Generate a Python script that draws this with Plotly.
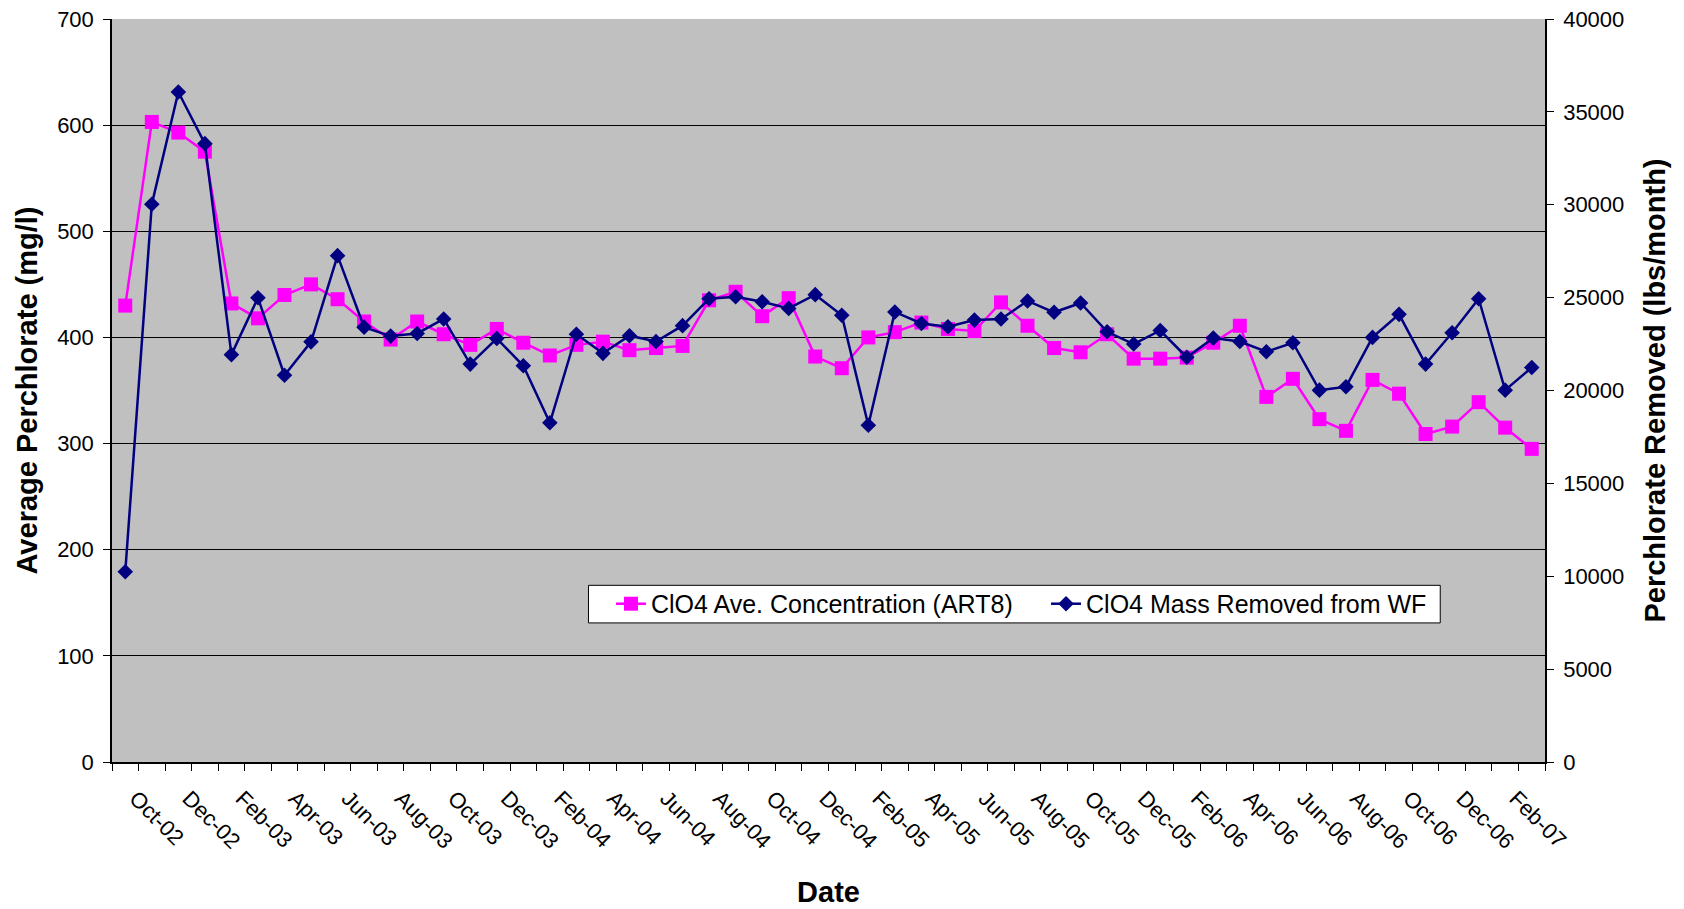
import plotly.graph_objects as go

months = ["Sep-02","Oct-02","Nov-02","Dec-02","Jan-03","Feb-03","Mar-03","Apr-03","May-03","Jun-03",
          "Jul-03","Aug-03","Sep-03","Oct-03","Nov-03","Dec-03","Jan-04","Feb-04","Mar-04","Apr-04",
          "May-04","Jun-04","Jul-04","Aug-04","Sep-04","Oct-04","Nov-04","Dec-04","Jan-05","Feb-05",
          "Mar-05","Apr-05","May-05","Jun-05","Jul-05","Aug-05","Sep-05","Oct-05","Nov-05","Dec-05",
          "Jan-06","Feb-06","Mar-06","Apr-06","May-06","Jun-06","Jul-06","Aug-06","Sep-06","Oct-06",
          "Nov-06","Dec-06","Jan-07","Feb-07"]

concentration = [430, 603, 593, 575, 432, 418, 440, 450, 436, 415,
                 398, 415, 403, 393, 408, 395, 383, 393, 396, 388,
                 390, 392, 435, 443, 420, 437, 382, 371, 400, 405,
                 414, 408, 406, 433, 411, 390, 386, 403, 380, 380,
                 381, 395, 411, 344, 361, 323, 312, 360, 347, 309,
                 316, 339, 315, 295]

mass_removed = [10240, 30030, 36070, 33290, 21930, 24990, 20820, 22620, 27260, 23410,
                22930, 23070, 23850, 21420, 22800, 21330, 18260, 23030, 22000, 22950,
                22640, 23490, 24940, 25050, 24780, 24420, 25160, 24050, 18130, 24230,
                23610, 23430, 23790, 23850, 24820, 24210, 24710, 23160, 22500, 23230,
                21790, 22820, 22640, 22090, 22570, 20020, 20200, 22860, 24100, 21420,
                23110, 24940, 20020, 21240]

x_pos = list(range(len(months)))
label_idx = [i for i in x_pos if i % 2 == 1]
label_text = [months[i] for i in label_idx]

FONT = "Arial, Liberation Sans, sans-serif"

fig = go.Figure()
fig.add_trace(go.Scatter(
    x=x_pos, y=concentration, name="ClO4 Ave. Concentration (ART8)",
    mode="lines+markers", legend="legend",
    line=dict(color="#FF00FF", width=2.5),
    marker=dict(symbol="square", size=14, color="#FF00FF"),
))
fig.add_trace(go.Scatter(
    x=x_pos, y=mass_removed, name="ClO4 Mass Removed from WF",
    mode="lines+markers", yaxis="y2", legend="legend2",
    line=dict(color="#000080", width=2.5),
    marker=dict(symbol="diamond", size=12, color="#000080"),
))

# legend frame (white box with black border) behind the two legend entries
fig.add_shape(type="rect", xref="paper", yref="paper",
              x0=0.3325, x1=0.9269, y0=0.1872, y1=0.2378,
              fillcolor="white", line=dict(color="black", width=1), layer="above")

leg_common = dict(
    orientation="h", yanchor="middle", xanchor="left", y=0.2127,
    bgcolor="rgba(0,0,0,0)", borderwidth=0,
    font=dict(family=FONT, size=25, color="black"),
    itemwidth=30,
)

# page body adds an 8px margin, so the figure is 8px smaller and offset
fig.update_layout(
    width=1676, height=901,
    margin=dict(l=104, r=139, t=11, b=147, autoexpand=False),
    paper_bgcolor="white", plot_bgcolor="#C0C0C0",
    font=dict(family=FONT, size=22, color="black"),
    showlegend=True,
    legend=dict(x=0.3482, **leg_common),
    legend2=dict(x=0.6518, **leg_common),
    xaxis=dict(
        range=[-0.5, len(months) - 0.5], automargin=False,
        tickmode="array", tickvals=label_idx, ticktext=label_text,
        tickangle=45, ticks="outside", ticklen=7, tickcolor="rgba(0,0,0,0)",
        ticklabelshift=-16, ticklabelstandoff=6,
        minor=dict(tickmode="linear", tick0=-0.5, dtick=1, ticks="outside", ticklen=7,
                   tickcolor="black", tickwidth=1, showgrid=False),
        showgrid=False, zeroline=False,
        showline=True, linecolor="black", linewidth=1.5,
        tickfont=dict(size=22),
        title=dict(text="<b>Date</b>", font=dict(size=29), standoff=29),
    ),
    yaxis=dict(
        range=[0, 700], dtick=100, tick0=0, automargin=False, ticklabeloverflow="allow",
        showgrid=True, gridcolor="black", gridwidth=1,
        zeroline=False, showline=True, linecolor="black", linewidth=1.5,
        ticks="outside", ticklen=7, tickcolor="black", ticklabelstandoff=5,
        tickfont=dict(size=22),
        title=dict(text="<b>Average Perchlorate (mg/l)</b>", font=dict(size=29), standoff=11),
    ),
    yaxis2=dict(
        range=[0, 40000], dtick=5000, tick0=0, overlaying="y", side="right",
        automargin=False, tickformat="d", ticklabeloverflow="allow",
        showgrid=False, zeroline=False, showline=True, linecolor="black", linewidth=1.5,
        ticks="outside", ticklen=7, tickcolor="black", ticklabelstandoff=5,
        tickfont=dict(size=22),
        title=dict(text="<b>Perchlorate Removed (lbs/month)</b>", font=dict(size=29), standoff=21),
    ),
)

fig.write_html("out.html")
